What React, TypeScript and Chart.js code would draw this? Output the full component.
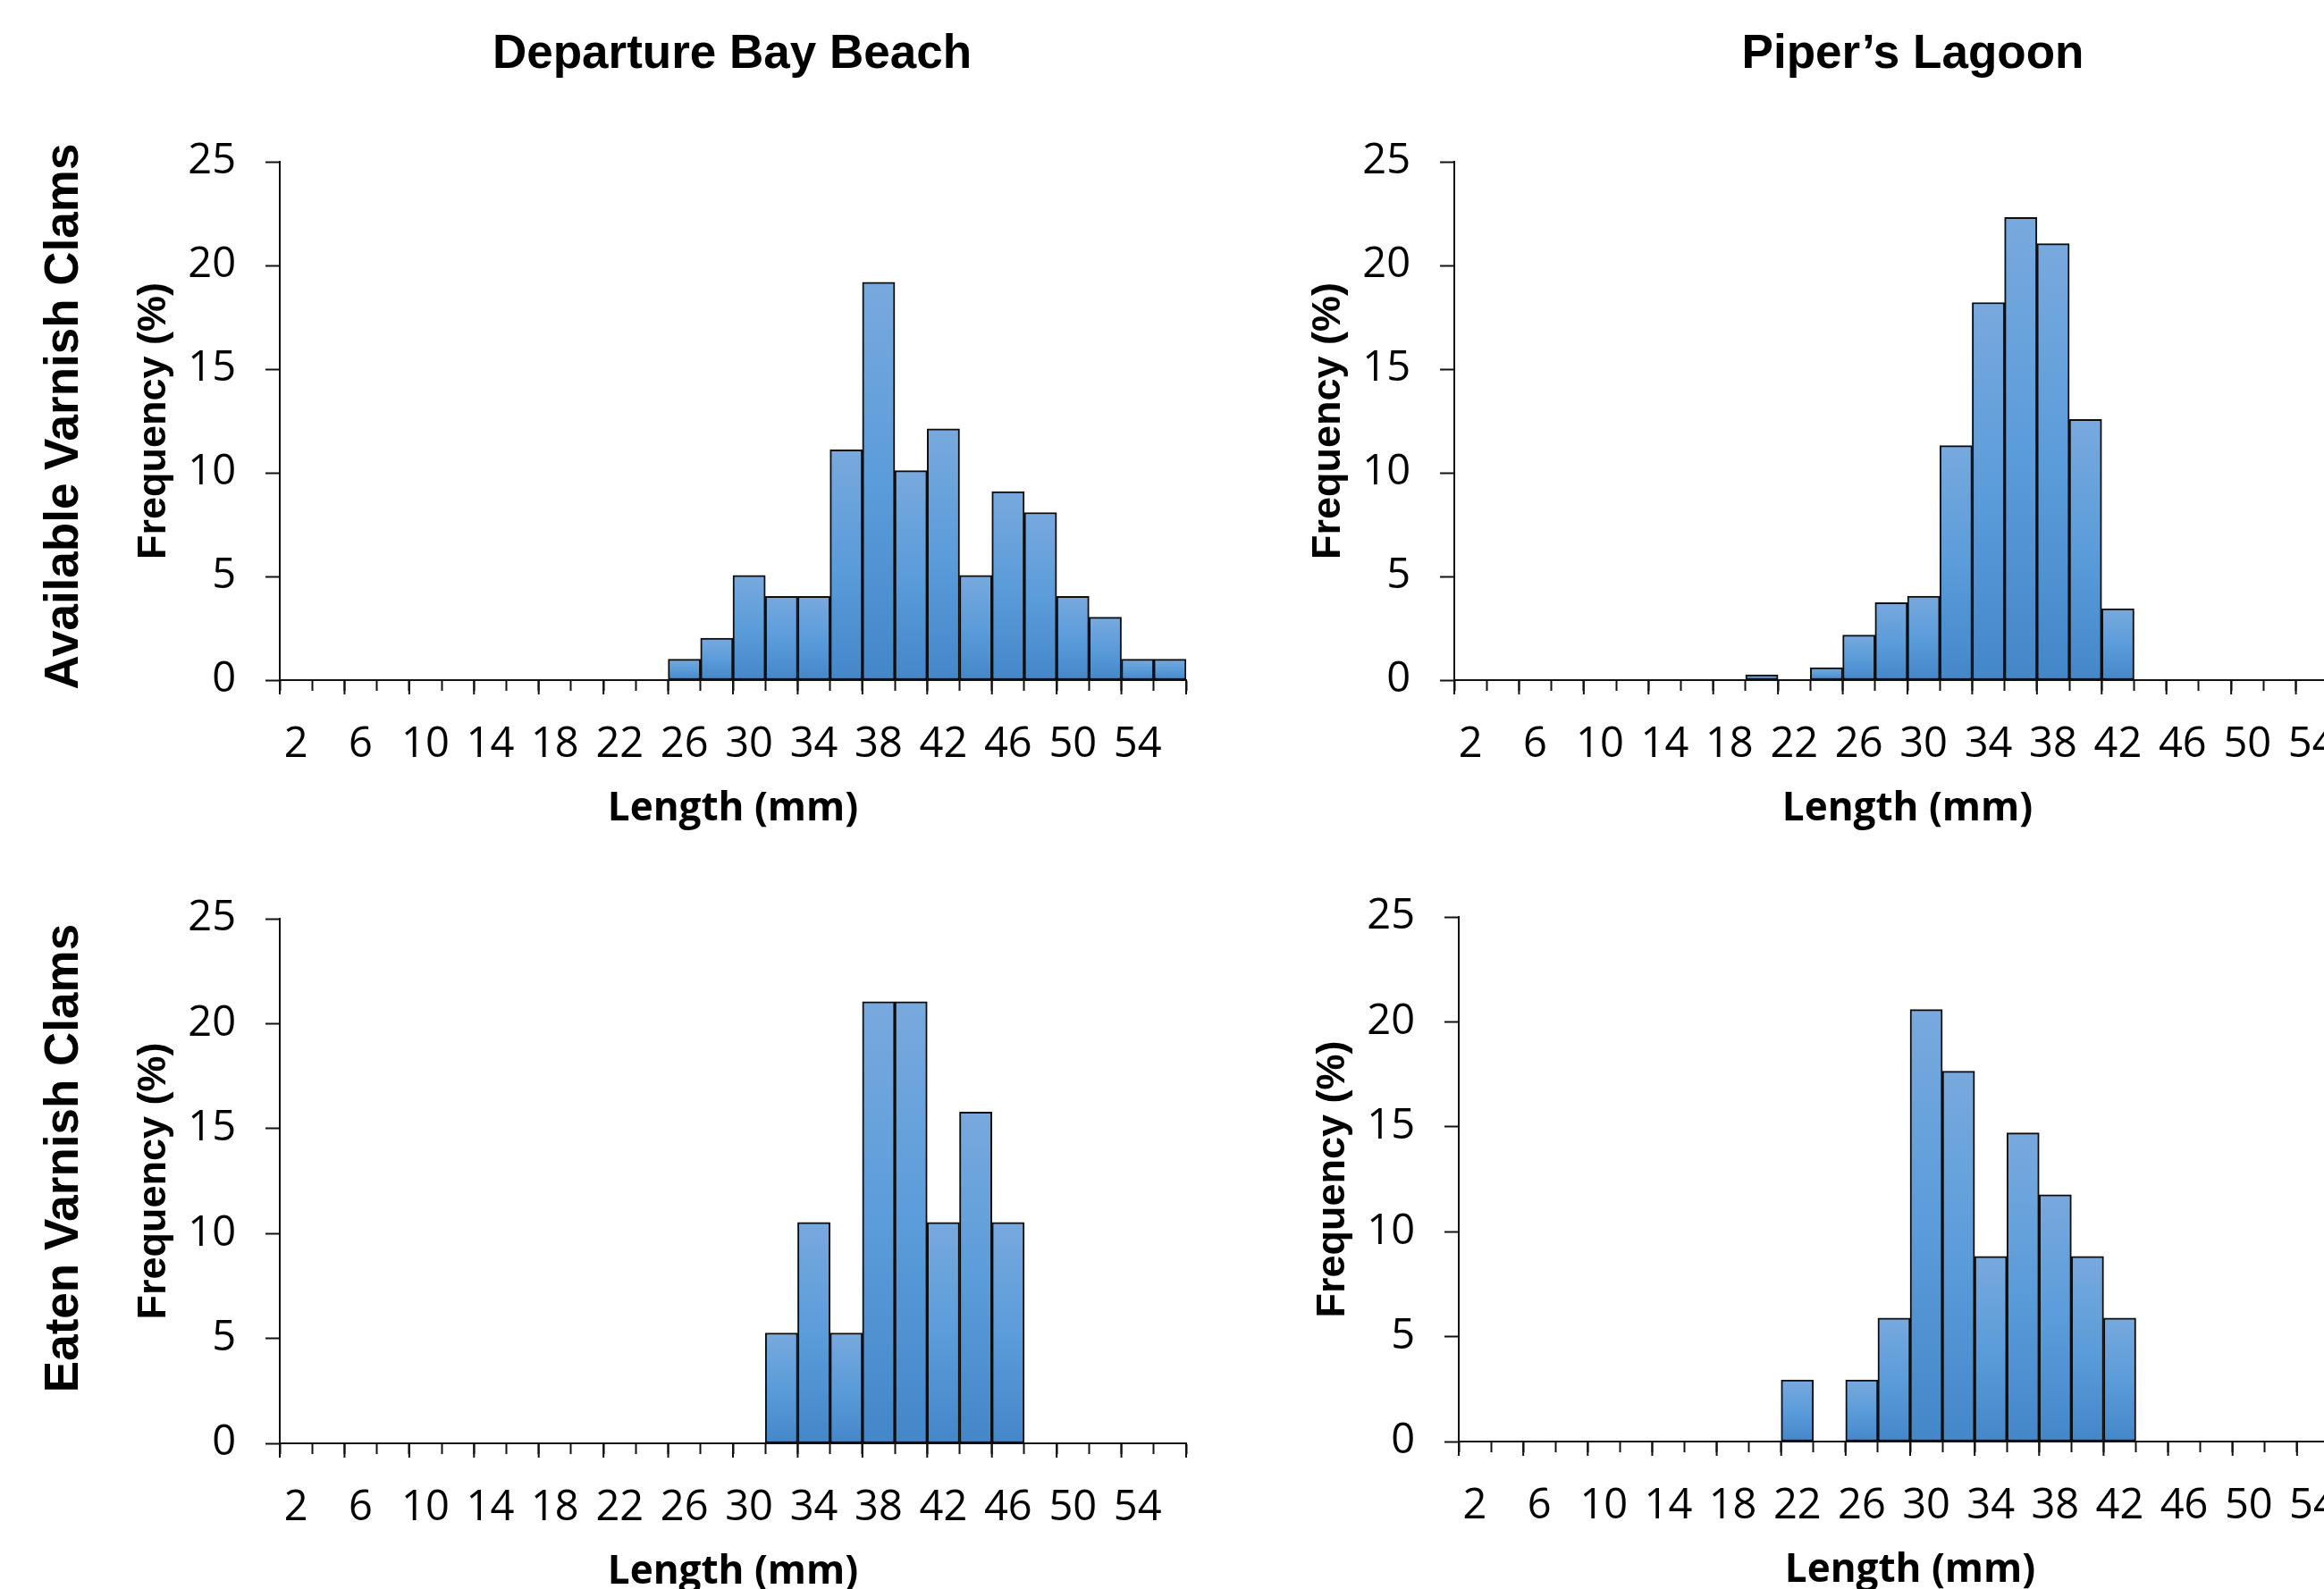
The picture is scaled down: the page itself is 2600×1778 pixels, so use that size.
import React, { useEffect, useRef } from "react";
import { Chart, registerables } from "chart.js";

Chart.register(...registerables);

// ---------------- data ----------------
const lengthBins = [
  "2", "4", "6", "8", "10", "12", "14", "16", "18", "20", "22", "24", "26", "28",
  "30", "32", "34", "36", "38", "40", "42", "44", "46", "48", "50", "52", "54", "56",
];
const shownLengthLabels = ["2", "6", "10", "14", "18", "22", "26", "30", "34", "38", "42", "46", "50", "54"];

const departureAvailable = [
  0, 0, 0, 0, 0, 0, 0, 0, 0, 0, 0, 0, 1.01, 2.02,
  5.05, 4.04, 4.04, 11.11, 19.19, 10.1, 12.12, 5.05, 9.09, 8.08, 4.04, 3.03, 1.01, 1.01,
];
const pipersAvailable = [
  0, 0, 0, 0, 0, 0, 0, 0, 0, 0.26, 0, 0.6, 2.17, 3.74,
  4.05, 11.31, 18.21, 22.31, 21.05, 12.57, 3.45, 0, 0, 0, 0, 0, 0, 0,
];
const departureEaten = [
  0, 0, 0, 0, 0, 0, 0, 0, 0, 0, 0, 0, 0, 0,
  0, 5.26, 10.53, 5.26, 21.05, 21.05, 10.53, 15.79, 10.53, 0, 0, 0, 0, 0,
];
const pipersEaten = [
  0, 0, 0, 0, 0, 0, 0, 0, 0, 0, 2.94, 0, 2.94, 5.88,
  20.59, 17.65, 8.82, 14.71, 11.76, 8.82, 5.88, 0, 0, 0, 0, 0, 0, 0,
];

const columnTitles = ["Departure Bay Beach", "Piper\u2019s Lagoon"];
const rowTitles = ["Available Varnish Clams", "Eaten Varnish Clams"];
const yAxisTitle = "Frequency (%)";
const xAxisTitle = "Length (mm)";
const yMin = 0;
const yMax = 25;
const yStep = 5;

// ---------------- styles ----------------
const AXIS = "#111111";
const BAR_EDGE = "#0d0d0d";
const TICK_FONT = "'Open Sans', 'DejaVu Sans', sans-serif";
const ARIAL = "'Liberation Sans', Arial, sans-serif";

function barFill(context: any) {
  const chart = context.chart;
  const yScale = chart.scales && chart.scales.y;
  const v = context.raw;
  if (!yScale || typeof v !== "number" || !chart.chartArea) return "#5b9bd5";
  const top = yScale.getPixelForValue(v);
  const bottom = yScale.getPixelForValue(0);
  if (!(bottom - top > 0.5)) return "#5b9bd5";
  const g = chart.ctx.createLinearGradient(0, top, 0, bottom);
  g.addColorStop(0, "#78a9de");
  g.addColorStop(0.5, "#5b9cda");
  g.addColorStop(1, "#4487c9");
  return g;
}

const panelTextPlugin = {
  id: "panelText",
  afterDraw(chart: any, _args: any, opts: any) {
    const ctx = chart.ctx as CanvasRenderingContext2D;
    ctx.save();
    // major tick marks (every other bin boundary) are longer
    const xs = chart.scales.x;
    const n = xs.ticks.length;
    const step = (xs.right - xs.left) / n;
    ctx.strokeStyle = AXIS;
    ctx.lineWidth = 2;
    ctx.beginPath();
    for (let i = 0; i <= n; i += 2) {
      const px = xs.left + i * step;
      ctx.moveTo(px, xs.top);
      ctx.lineTo(px, xs.top + 16);
    }
    ctx.stroke();

    ctx.fillStyle = "#000";
    ctx.textAlign = "center";
    ctx.textBaseline = "middle";
    if (opts && opts.title) {
      ctx.font = `bold 53px ${ARIAL}`;
      ctx.fillText(opts.title, opts.titleX, opts.titleY);
    }
    if (opts && opts.rowLabel) {
      ctx.translate(opts.rowX, opts.rowY);
      ctx.rotate(-Math.PI / 2);
      ctx.font = `bold 53px ${ARIAL}`;
      ctx.fillText(opts.rowLabel, 0, 0);
    }
    ctx.restore();
  },
};

type PanelProps = {
  values: number[];
  left: number;
  top: number;
  width: number;
  height: number;
  padTop: number;
  padBottom: number;
  title?: string;
  titleX?: number;
  titleY?: number;
  rowLabel?: string;
  rowX?: number;
  rowY?: number;
};

function HistPanel(p: PanelProps) {
  const ref = useRef<HTMLCanvasElement>(null);
  useEffect(() => {
    if (!ref.current) return;
    const chart = new Chart(ref.current, {
      type: "bar",
      data: {
        labels: lengthBins,
        datasets: [
          {
            data: p.values,
            backgroundColor: barFill as any,
            borderColor: BAR_EDGE,
            borderWidth: 2,
            borderSkipped: false,
            categoryPercentage: 1,
            barPercentage: 1,
          },
        ],
      },
      plugins: [panelTextPlugin as any],
      options: {
        responsive: false,
        animation: false,
        devicePixelRatio: 1,
        events: [],
        layout: { padding: { left: 150, right: 33, top: p.padTop, bottom: p.padBottom } },
        plugins: {
          legend: { display: false },
          tooltip: { enabled: false },
          panelText: {
            title: p.title,
            titleX: p.titleX,
            titleY: p.titleY,
            rowLabel: p.rowLabel,
            rowX: p.rowX,
            rowY: p.rowY,
          },
        } as any,
        scales: {
          x: {
            type: "category",
            offset: true,
            grid: {
              display: true,
              offset: true,
              drawOnChartArea: false,
              drawTicks: true,
              tickLength: 12,
              tickWidth: 2,
              tickColor: AXIS,
              color: AXIS,
            },
            border: { display: true, color: AXIS, width: 2 },
            ticks: {
              autoSkip: false,
              maxRotation: 0,
              minRotation: 0,
              padding: 37,
              color: "#000",
              font: { family: TICK_FONT, size: 47, lineHeight: 1 },
              callback: (_v: any, index: number) => {
                const lab = lengthBins[index];
                return shownLengthLabels.includes(lab) ? lab : "";
              },
            },
            title: {
              display: true,
              text: xAxisTitle,
              color: "#000",
              font: { family: TICK_FONT, size: 44, weight: "bold", lineHeight: 1 },
              padding: { top: 0, bottom: 4 },
            },
            afterFit: (s: any) => {
              s.height = 170;
            },
          },
          y: {
            min: yMin,
            max: yMax,
            ticks: {
              stepSize: yStep,
              padding: 33,
              color: "#000",
              font: { family: TICK_FONT, size: 47, lineHeight: 1 },
            },
            grid: {
              display: true,
              drawOnChartArea: false,
              drawTicks: true,
              tickLength: 16,
              tickWidth: 2,
              tickColor: AXIS,
              color: AXIS,
            },
            border: { display: true, color: AXIS, width: 2 },
            title: {
              display: true,
              text: yAxisTitle,
              color: "#000",
              font: { family: ARIAL, size: 45, weight: "bold", lineHeight: 1 },
              padding: { top: 0, bottom: 0 },
            },
            afterFit: (s: any) => {
              s.width = 163;
            },
          },
        },
      } as any,
    });
    return () => chart.destroy();
  }, []);
  return (
    <canvas
      ref={ref}
      width={p.width}
      height={p.height}
      style={{ position: "absolute", left: p.left, top: p.top, width: p.width, height: p.height }}
    />
  );
}

export default function App() {
  return (
    <div
      style={{
        position: "absolute",
        left: 0,
        top: 0,
        width: 2600,
        height: 1778,
        overflow: "hidden",
        background: "#fff",
      }}
    >
      <HistPanel
        values={departureAvailable}
        left={0}
        top={0}
        width={1360}
        height={960}
        padTop={181}
        padBottom={29}
        title={columnTitles[0]}
        titleX={819}
        titleY={61}
        rowLabel={rowTitles[0]}
        rowX={72}
        rowY={466}
      />
      <HistPanel
        values={pipersAvailable}
        left={1314}
        top={0}
        width={1360}
        height={960}
        padTop={181}
        padBottom={29}
        title={columnTitles[1]}
        titleX={826}
        titleY={61}
      />
      <HistPanel
        values={departureEaten}
        left={0}
        top={960}
        width={1360}
        height={860}
        padTop={68}
        padBottom={35}
        rowLabel={rowTitles[1]}
        rowX={72}
        rowY={336}
      />
      <HistPanel
        values={pipersEaten}
        left={1319}
        top={960}
        width={1356}
        height={860}
        padTop={66}
        padBottom={37}
      />
    </div>
  );
}
